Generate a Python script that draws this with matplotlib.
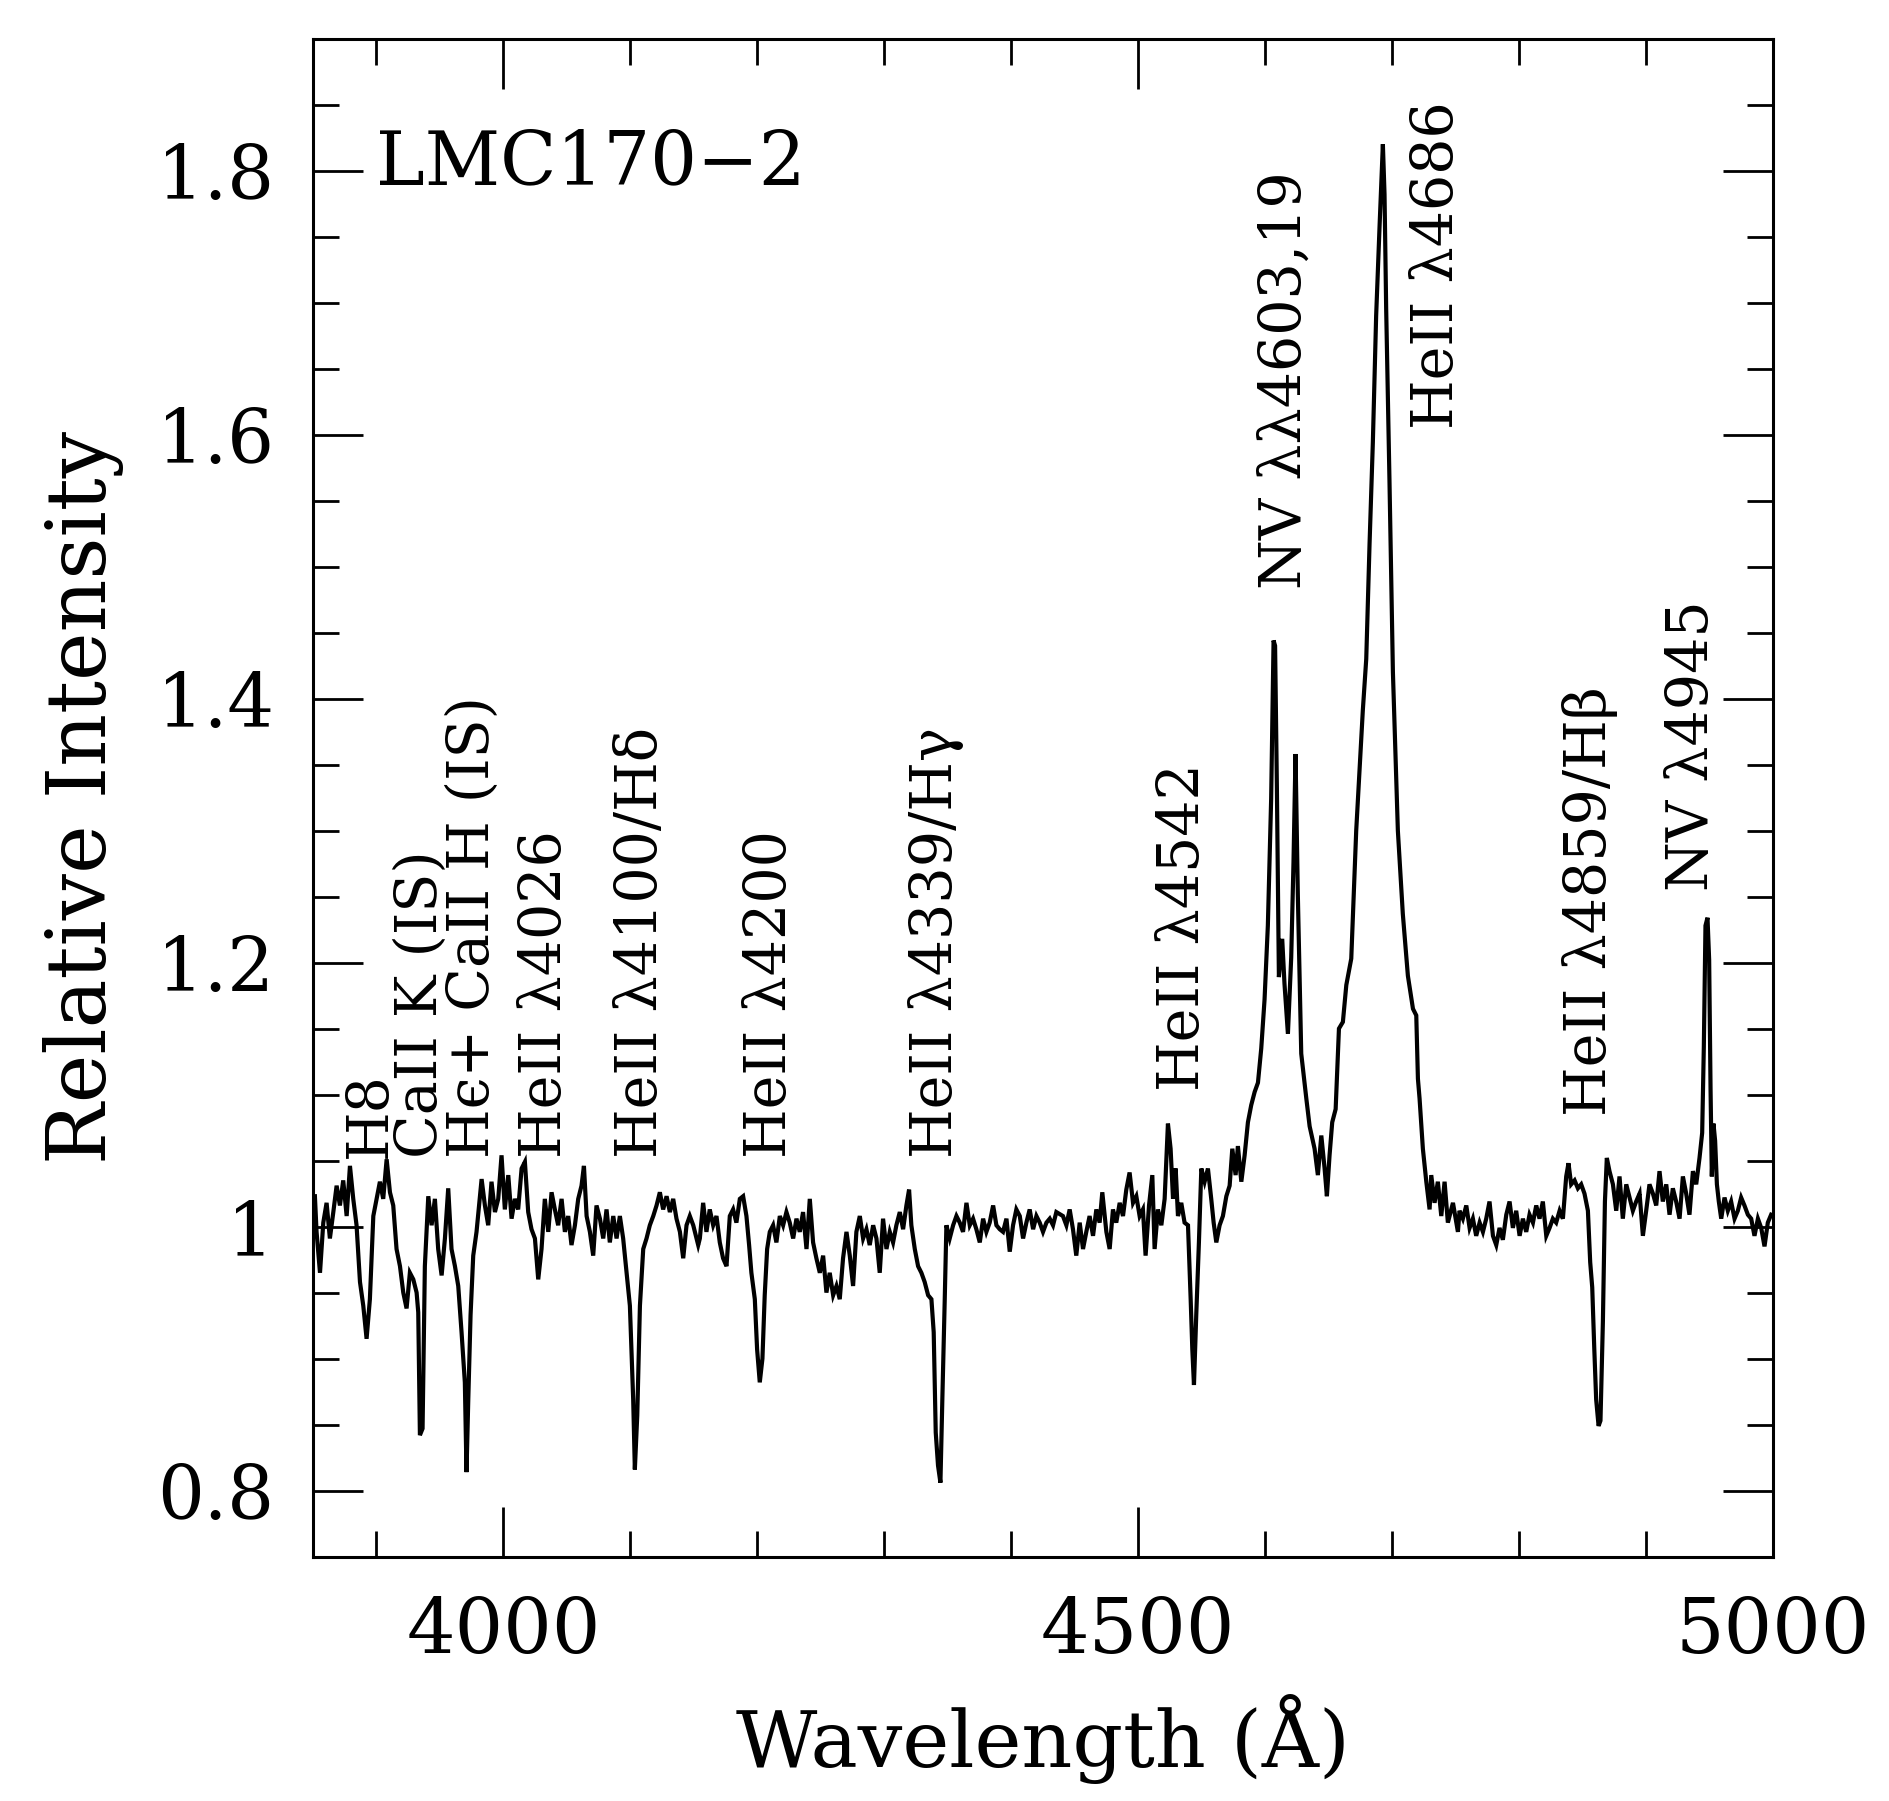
import matplotlib
matplotlib.use('Agg')
import matplotlib.pyplot as plt
import numpy as np
from matplotlib.ticker import MultipleLocator, FuncFormatter

# ---------------- data ----------------
wave_a = [3851.5, 3852.8, 3855.5, 3858.1, 3860.7, 3863.3, 3866.0, 3868.6, 3871.2, 3873.8,
          3876.5, 3879.1, 3881.7, 3884.3, 3887.0, 3889.6, 3892.2, 3894.8, 3897.5, 3900.1,
          3902.7, 3905.3, 3908.0, 3910.6, 3913.2, 3915.8, 3918.5, 3921.1, 3923.7, 3926.3,
          3929.0, 3931.6, 3932.9, 3934.2, 3936.3, 3938.1, 3940.8, 3943.4, 3946.0, 3948.6,
          3951.3, 3953.9, 3956.5, 3959.1, 3961.8, 3964.4, 3967.0, 3969.6, 3970.9, 3972.3,
          3974.1, 3976.2, 3978.8, 3982.8, 3985.4, 3988.0, 3990.6, 3993.3, 3995.9, 3998.5,
          4001.1, 4003.8, 4006.4, 4009.0, 4011.6, 4014.3, 4016.9, 4019.5, 4022.1, 4024.8,
          4027.4, 4030.0, 4032.6, 4035.3, 4037.9, 4040.5, 4043.1, 4045.8, 4048.4, 4051.0,
          4053.6, 4056.3, 4058.9, 4061.5, 4063.4, 4065.5, 4068.1, 4070.7, 4073.3, 4076.0,
          4078.6, 4081.2, 4083.8, 4086.5, 4089.1, 4091.7, 4094.3, 4097.0, 4099.6, 4102.2,
          4103.5, 4105.4, 4107.5, 4110.1, 4112.7, 4115.3, 4118.0, 4120.6, 4123.2, 4125.8,
          4128.5, 4131.1, 4133.7, 4136.3, 4139.0, 4141.6, 4144.2, 4146.8, 4149.5, 4153.4]
flux_a = [1.023, 0.996, 0.965, 1.003, 1.018, 0.991, 1.011, 1.031, 1.016, 1.035,
          1.008, 1.046, 1.021, 1.001, 0.958, 0.940, 0.915, 0.945, 1.008, 1.021,
          1.034, 1.021, 1.051, 1.026, 1.016, 0.983, 0.970, 0.950, 0.938, 0.965,
          0.960, 0.950, 0.935, 0.842, 0.847, 0.970, 1.023, 1.001, 1.021, 0.983,
          0.963, 0.991, 1.029, 0.983, 0.970, 0.955, 0.920, 0.882, 0.814, 0.869,
          0.933, 0.978, 0.996, 1.036, 1.016, 1.001, 1.034, 1.011, 1.021, 1.054,
          1.013, 1.039, 1.006, 1.021, 1.013, 1.044, 1.049, 1.011, 0.998, 0.991,
          0.960, 0.983, 1.021, 0.996, 1.026, 1.013, 1.001, 1.021, 0.996, 1.008,
          0.986, 1.001, 1.021, 1.031, 1.046, 1.008, 0.996, 0.978, 1.016, 1.006,
          0.991, 1.013, 0.988, 1.008, 0.991, 1.008, 0.991, 0.965, 0.940, 0.869,
          0.816, 0.857, 0.940, 0.983, 0.991, 1.001, 1.008, 1.016, 1.026, 1.013,
          1.023, 1.011, 1.021, 1.006, 0.996, 0.976, 1.001, 1.008, 1.001, 0.986]

wave_b = [4154.7, 4157.3, 4159.9, 4162.5, 4165.2, 4167.8, 4170.4, 4173.0, 4175.7, 4178.3,
          4180.9, 4183.5, 4186.2, 4188.8, 4191.4, 4193.5, 4195.3, 4198.0, 4199.8, 4201.9,
          4204.0, 4205.8, 4207.7, 4209.8, 4212.4, 4215.0, 4217.7, 4220.3, 4222.9, 4225.5,
          4228.2, 4230.8, 4233.4, 4236.0, 4238.7, 4241.3, 4243.9, 4246.5, 4249.2, 4251.8,
          4254.4, 4257.0, 4259.7, 4262.3, 4264.9, 4267.5, 4270.2, 4272.8, 4275.4, 4278.0,
          4280.7, 4283.3, 4285.9, 4288.5, 4291.2, 4293.8, 4296.4, 4299.0, 4301.7, 4304.3,
          4306.9, 4309.5, 4312.2, 4314.8, 4317.4, 4319.5, 4321.3, 4324.0, 4326.6, 4329.2,
          4331.8, 4334.5, 4337.1, 4338.9, 4340.5, 4342.3, 4344.2, 4345.7, 4347.6, 4348.9,
          4351.5, 4354.2, 4356.8, 4359.4, 4362.0, 4364.7, 4367.3, 4369.9, 4372.5, 4375.2,
          4377.8, 4380.4, 4383.0, 4385.7, 4388.3, 4390.9, 4393.5, 4396.2, 4398.8, 4401.4,
          4404.0, 4406.7, 4409.3, 4411.9, 4414.5, 4417.2, 4419.8, 4422.4, 4425.0, 4427.7,
          4430.3, 4432.9, 4435.5]
flux_b = [0.991, 1.018, 0.996, 1.013, 1.001, 1.008, 0.988, 0.976, 0.970, 1.008,
          1.013, 1.003, 1.021, 1.023, 1.008, 0.986, 0.965, 0.945, 0.907, 0.882,
          0.900, 0.948, 0.983, 0.996, 1.001, 0.988, 1.008, 1.001, 1.011, 1.003,
          0.991, 1.006, 0.996, 1.011, 0.983, 1.021, 0.988, 0.976, 0.965, 0.978,
          0.950, 0.965, 0.948, 0.955, 0.945, 0.976, 0.996, 0.978, 0.955, 0.996,
          1.008, 0.991, 0.998, 0.986, 1.001, 0.991, 0.965, 1.006, 0.983, 0.996,
          0.988, 1.001, 1.011, 0.998, 1.016, 1.028, 1.001, 0.983, 0.970, 0.965,
          0.958, 0.948, 0.945, 0.920, 0.844, 0.819, 0.806, 0.869, 0.945, 1.001,
          0.991, 1.001, 1.008, 1.003, 0.996, 1.018, 1.001, 1.006, 0.998, 0.988,
          1.006, 0.996, 1.003, 1.016, 1.001, 0.998, 0.996, 1.006, 0.981, 1.001,
          1.013, 1.008, 0.991, 1.003, 1.013, 0.998, 1.008, 1.003, 0.996, 1.003,
          1.006, 1.001, 1.011]

wave_c = [4440.7, 4443.4, 4446.0, 4448.6, 4451.2, 4453.9, 4456.5, 4459.1, 4461.7, 4464.4,
          4467.0, 4469.6, 4471.7, 4474.9, 4477.5, 4480.1, 4482.7, 4485.4, 4488.0, 4490.6,
          4493.2, 4495.9, 4498.5, 4501.1, 4503.7, 4505.8, 4508.5, 4511.1, 4512.9, 4515.5,
          4518.2, 4520.8, 4523.4, 4525.5, 4527.4, 4529.5, 4531.3, 4533.9, 4536.5, 4539.2,
          4541.3, 4542.6, 4543.9, 4545.7, 4547.8, 4549.7, 4552.3, 4554.9, 4557.5, 4559.4,
          4561.5, 4564.1, 4566.7, 4569.4, 4572.0, 4574.1, 4576.7, 4578.5, 4581.2, 4583.8,
          4586.4, 4589.0, 4591.7, 4594.3, 4596.9, 4599.5]
flux_c = [1.008, 1.001, 1.013, 0.998, 0.978, 1.003, 0.983, 0.996, 1.008, 0.993,
          1.013, 1.003, 1.026, 0.996, 0.983, 1.013, 1.003, 1.018, 1.008, 1.028,
          1.041, 1.018, 1.023, 1.008, 1.013, 0.978, 1.016, 1.039, 0.983, 1.013,
          1.001, 1.021, 1.078, 1.059, 1.021, 1.044, 1.008, 1.018, 1.003, 1.001,
          0.945, 0.907, 0.880, 0.933, 0.988, 1.044, 1.034, 1.044, 1.021, 1.003,
          0.988, 1.001, 1.008, 1.023, 1.031, 1.059, 1.039, 1.061, 1.034, 1.054,
          1.079, 1.092, 1.102, 1.109, 1.135, 1.172]

wave_d = [4602.1, 4604.7, 4606.6, 4607.8, 4609.2, 4610.8, 4613.4, 4615.2, 4617.9, 4620.5,
          4622.3, 4623.9, 4625.7, 4628.4, 4632.4, 4635.0, 4638.9, 4641.5, 4644.2, 4646.8,
          4648.6, 4650.7, 4652.8, 4655.5, 4658.1, 4661.2, 4663.9, 4667.8, 4671.7, 4676.9,
          4679.6, 4682.2, 4684.8, 4687.4, 4690.1, 4692.7, 4694.0, 4695.3, 4697.9, 4700.6,
          4704.5, 4708.4, 4712.4, 4716.4, 4719.0, 4720.3, 4721.6, 4724.2, 4726.9, 4729.5,
          4730.8, 4733.4, 4736.0, 4738.7, 4741.3, 4743.9, 4747.9, 4751.8]
flux_d = [1.228, 1.324, 1.444, 1.440, 1.334, 1.189, 1.218, 1.184, 1.146, 1.204,
          1.276, 1.358, 1.252, 1.131, 1.097, 1.076, 1.059, 1.039, 1.069, 1.044,
          1.023, 1.054, 1.079, 1.089, 1.150, 1.155, 1.183, 1.203, 1.300, 1.391,
          1.430, 1.517, 1.594, 1.690, 1.758, 1.820, 1.782, 1.695, 1.565, 1.420,
          1.300, 1.237, 1.190, 1.165, 1.160, 1.112, 1.097, 1.059, 1.034, 1.013,
          1.039, 1.018, 1.034, 1.008, 1.034, 1.003, 1.018, 0.996]

wave_e = [4753.1, 4755.7, 4758.4, 4761.0, 4763.6, 4766.2, 4768.9, 4771.5, 4774.1, 4776.7,
          4779.4, 4782.0, 4784.6, 4787.2, 4789.9, 4792.5, 4795.1, 4797.7, 4800.4, 4803.0,
          4805.6, 4808.2, 4810.9, 4813.5, 4816.1, 4818.7, 4821.4, 4824.0, 4826.6, 4829.2,
          4831.9, 4834.5, 4837.1, 4838.9, 4841.0, 4843.7, 4846.3, 4848.9, 4851.5, 4854.2,
          4856.0, 4857.6, 4859.2, 4860.7, 4862.6, 4864.1, 4866.0, 4867.6, 4869.1, 4871.2,
          4873.9, 4876.5, 4879.1, 4881.7, 4884.4, 4887.0, 4889.6, 4892.2, 4894.9, 4897.5,
          4900.1, 4902.7, 4905.4, 4908.0, 4910.6, 4913.2, 4915.9, 4918.5, 4921.1, 4923.7,
          4926.4, 4929.0, 4931.6, 4934.2, 4936.9, 4939.5, 4942.1, 4944.2, 4945.5, 4946.8,
          4948.4, 4949.7, 4950.8, 4951.8, 4953.1, 4954.4, 4955.8, 4957.3, 4959.2, 4961.8,
          4964.4, 4967.0, 4969.7, 4972.3, 4974.9, 4977.5, 4980.2, 4982.8, 4985.4, 4988.1,
          4990.7, 4993.3, 4995.9, 4998.5]
flux_e = [1.012, 1.006, 1.016, 0.999, 1.006, 0.993, 1.003, 0.996, 1.006, 1.019,
          0.993, 0.986, 0.999, 0.990, 1.009, 1.019, 0.999, 1.012, 0.993, 1.006,
          0.996, 1.009, 1.003, 1.016, 1.006, 1.019, 0.993, 0.999, 1.006, 1.003,
          1.012, 1.006, 1.038, 1.048, 1.032, 1.035, 1.029, 1.032, 1.025, 1.012,
          0.973, 0.954, 0.908, 0.869, 0.849, 0.853, 0.928, 1.019, 1.052, 1.042,
          1.032, 1.012, 1.038, 1.006, 1.032, 1.022, 1.012, 1.019, 1.025, 0.993,
          1.012, 1.032, 1.025, 1.016, 1.042, 1.019, 1.032, 1.009, 1.029, 1.019,
          1.006, 1.038, 1.025, 1.009, 1.042, 1.032, 1.052, 1.071, 1.136, 1.228,
          1.234, 1.202, 1.104, 1.038, 1.078, 1.065, 1.032, 1.019, 1.006, 1.022,
          1.012, 1.019, 1.006, 1.012, 1.022, 1.016, 1.009, 1.006, 0.993, 1.006,
          0.999, 0.985, 1.003, 1.009]

line_labels = ['H8', 'CaII K (IS)', 'H\u03f5+ CaII H (IS)', 'HeII \u03bb4026',
               'HeII \u03bb4100/H\u03b4', 'HeII \u03bb4200', 'HeII \u03bb4339/H\u03b3',
               'HeII \u03bb4542', 'NV \u03bb\u03bb4603,19', 'HeII \u03bb4686',
               'HeII \u03bb4859/H\u03b2', 'NV \u03bb4945']
label_wave = [3895, 3935, 3976, 4033, 4108, 4210, 4341, 4535, 4615, 4735, 4856, 4936]
label_base = [1.052, 1.052, 1.052, 1.052, 1.052, 1.052, 1.052, 1.103, 1.483, 1.604, 1.084, 1.254]

object_name = 'LMC170\u22122'

# ---------------- plot ----------------
plt.rcParams['font.family'] = ['DejaVu Serif', 'DejaVu Sans']

wave = np.concatenate([wave_a, wave_b, wave_c, wave_d, wave_e])
flux = np.concatenate([flux_a, flux_b, flux_c, flux_d, flux_e])

fig = plt.figure(figsize=(18.89, 18.01), dpi=100)
ax = fig.add_axes([0.1657, 0.1357, 0.9386 - 0.1657, 0.9786 - 0.1357])
ax.plot(wave, flux, color='black', lw=3.0, solid_joinstyle='miter')

ax.set_xlim(3850, 5000)
ax.set_ylim(0.75, 1.90)
ax.xaxis.set_major_locator(MultipleLocator(500))
ax.xaxis.set_minor_locator(MultipleLocator(100))
ax.yaxis.set_major_locator(MultipleLocator(0.2))
ax.yaxis.set_minor_locator(MultipleLocator(0.05))
ax.yaxis.set_major_formatter(FuncFormatter(lambda v, p: f"{v:g}"))
ax.tick_params(which='both', direction='in', top=True, right=True, width=2.0, color='black')
ax.tick_params(which='major', length=36, pad=28)
ax.tick_params(axis='x', which='major', labelsize=55)
ax.tick_params(axis='y', which='major', labelsize=53)
ax.tick_params(which='minor', length=19)
for s in ax.spines.values():
    s.set_linewidth(2.2)

ax.set_xlabel('Wavelength (Å)', fontsize=57, labelpad=18)
ax.set_ylabel('Relative Intensity', fontsize=59, labelpad=24)

for lab, lw_, lb in zip(line_labels, label_wave, label_base):
    ax.text(lw_, lb, lab, rotation=90, ha='center', va='bottom', fontsize=41)

ax.text(3900, 1.805, object_name, ha='left', va='center', fontsize=53)

fig.savefig('out.png', dpi=100)
